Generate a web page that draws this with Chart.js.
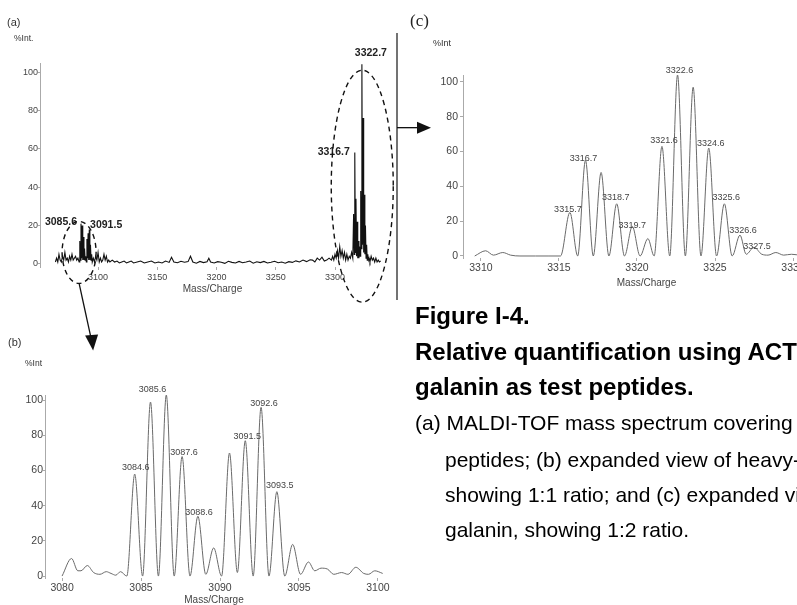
<!DOCTYPE html>
<html>
<head>
<meta charset="utf-8">
<title>Figure I-4</title>
<script src="https://cdn.jsdelivr.net/npm/chart.js@4.4.1/dist/chart.umd.min.js"></script>
<style>
  html, body { margin: 0; padding: 0; background: #fff; overflow: hidden; }
  #fig { position: relative; width: 797px; height: 605px; overflow: hidden; font-family: "Liberation Sans", Arial, sans-serif; }
  canvas { position: absolute; }
  .lbl { position: absolute; white-space: nowrap; color: #333; }
  .cap { position: absolute; left: 415px; white-space: nowrap; color: #000; }
  .bold { font-weight: bold; font-size: 24px; line-height: 26px; }
  .reg { font-size: 21px; line-height: 24px; }
</style>
</head>
<body>
<div id="fig">
  <canvas id="chartA" width="440" height="360" style="left:0;top:0"></canvas>
  <canvas id="chartB" width="400" height="245" style="left:0;top:380px"></canvas>
  <canvas id="chartC" width="400" height="300" style="left:440px;top:0"></canvas>

  <div class="lbl" style="left:7px;top:16px;font-size:11px">(a)</div>
  <div class="lbl" style="left:14px;top:33px;font-size:8.5px">%Int.</div>
  <div class="lbl" style="left:8px;top:336px;font-size:11px">(b)</div>
  <div class="lbl" style="left:25px;top:358px;font-size:8.5px">%Int</div>
  <div class="lbl" style="left:410px;top:11px;font-size:17px;font-family:'Liberation Serif',serif;color:#222">(c)</div>
  <div class="lbl" style="left:433px;top:38px;font-size:9px">%Int</div>

  <div class="cap bold" style="top:303px">Figure I-4.</div>
  <div class="cap bold" style="top:339px">Relative quantification using ACTH</div>
  <div class="cap bold" style="top:374px">galanin as test peptides.</div>
  <div class="cap reg" style="top:411px">(a) MALDI-TOF mass spectrum covering</div>
  <div class="cap reg" style="top:448px;left:445px">peptides; (b) expanded view of heavy-</div>
  <div class="cap reg" style="top:483px;left:445px">showing 1:1 ratio; and (c) expanded view</div>
  <div class="cap reg" style="top:518px;left:445px">galanin, showing 1:2 ratio.</div>
</div>

<script>
// (a) full spectrum, ACTH and galanin regions
const aMass = [
  3064, 3065, 3066, 3067, 3068, 3069, 3070, 3071, 3072, 3073, 3074, 3075, 3076, 3077, 3078, 3079, 3080, 3081, 3082, 3083, 3084,
  3084.6, 3085.1, 3085.6, 3086.1, 3086.6, 3087.1, 3087.6, 3088.1, 3088.6, 3089.1, 3089.6, 3090.1, 3090.6, 3091.1, 3091.6, 3092.1, 3092.6, 3093.1, 3093.6, 3094.1, 3094.6, 3095.1,
  3096, 3097, 3098, 3099, 3100, 3101, 3102, 3103, 3104, 3105, 3106, 3107, 3108, 3109, 3110, 3112, 3114, 3116, 3118, 3120, 3122, 3124, 3126, 3128, 3130, 3133, 3136, 3139, 3142, 3145, 3148,
  3151, 3154, 3157, 3160, 3162, 3164, 3167, 3170, 3173, 3176, 3178, 3180, 3183, 3186, 3189, 3192, 3193.5, 3195, 3198, 3201, 3204, 3207, 3210, 3213, 3216, 3219, 3222, 3225, 3228, 3231, 3234, 3237, 3240, 3243, 3246, 3249, 3252, 3255, 3258, 3261, 3264, 3267, 3270, 3273, 3276, 3279,
  3281, 3283, 3285, 3287, 3289, 3291, 3293, 3295, 3297, 3298, 3299, 3300, 3301, 3302, 3303, 3304, 3305, 3306, 3307, 3308, 3309, 3310, 3311, 3312, 3313, 3314, 3315,
  3315.7, 3316.2, 3316.7, 3317.2, 3317.7, 3318.2, 3318.7, 3319.2, 3319.7, 3320.2, 3320.7, 3321.2, 3321.7, 3322.2, 3322.7, 3323.2, 3323.7, 3324.2, 3324.7, 3325.2, 3325.7, 3326.2, 3326.7, 3327.2, 3327.7, 3328.2,
  3328.7, 3329.5, 3330.5, 3331.5, 3332.5, 3333.5, 3334.5, 3335.5, 3336.5, 3337.5, 3338.5
];
const aIntensity = [
  1, 3, 1, 5, 2, 1, 4, 2, 6, 2, 3, 1, 4, 2, 5, 2, 3, 4, 2, 3, 1,
  12, 2, 21, 3, 20, 2, 14, 2, 8, 2, 4, 1, 13, 3, 16, 2, 18, 2, 10, 2, 5, 1,
  3, 1, 4, 2, 6, 1, 3, 1, 2, 5, 2, 4, 1, 2, 1, 2, 1, 1.5, 0.5, 1, 1.5, 0.5, 1, 1.5, 0.5, 1, 1.5, 0.5, 1, 1.5, 0.5,
  1, 0.5, 1.5, 0.8, 3.5, 1, 0.6, 1.4, 0.9, 1.2, 4, 1, 0.4, 1.3, 0.7, 1.1, 3, 1, 0.5, 1.2, 0.9, 0.3, 1.4, 0.8, 0.5, 1.3, 0.6, 1, 1.5, 0.4, 1.1, 0.7, 1.3, 0.5, 0.9, 1.4, 0.6, 1, 0.4, 1.2, 0.8, 1.6, 1, 2, 1.2, 2.2,
  2, 1, 3, 2, 3.5, 1.5, 2, 3, 2, 4, 2, 5, 3, 7, 3, 9, 4, 7, 3, 6, 2, 5, 2, 4, 3, 6, 3,
  26, 5, 58, 6, 34, 4, 22, 3, 12, 3, 9, 4, 38, 8, 104, 10, 76, 6, 36, 5, 20, 3, 10, 2, 5, 2,
  3, 1, 4, 2, 3, 1, 3, 1, 2, 1, 1.5
];
const aTicks = [3100, 3150, 3200, 3250, 3300];
const aPeakLabels = ["3085.6", "3091.5", "3316.7", "3322.7"];

// (b) expanded ACTH region
const bMass = [
  3080, 3080.6, 3081, 3081.2, 3081.6, 3082, 3082.4, 3082.8, 3083.1, 3083.4, 3083.7, 3084.1,
  3084.6, 3085.1, 3085.6, 3086.1, 3086.6, 3087.1, 3087.6, 3088.1, 3088.6, 3089.1, 3089.6, 3090.1,
  3090.6, 3091.1, 3091.6, 3092.1, 3092.6, 3093.1, 3093.6, 3094.1, 3094.6, 3095.1, 3095.6, 3096,
  3096.4, 3096.8, 3097.2, 3097.7, 3098.1, 3098.6, 3099.1, 3099.4, 3099.8, 3100.3
];
const bIntensity = [
  0, 10, 3, 3, 6, 2, 1, 2.5, 1.5, 0.5, 2.5, 0,
  58, 0, 99, 0, 103, 0, 68, 0, 34, 1, 16, 0,
  70, 2, 77, 0, 96, 0, 48, 0, 18, 1, 8, 3,
  4.5, 4, 1, 2, 1, 5, 1.5, 1, 3, 1.5
];
const bTicks = [3080, 3085, 3090, 3095, 3100];
const bPeakLabels = ["3084.6", "3085.6", "3087.6", "3088.6", "3091.5", "3092.6", "3093.5"];

// (c) expanded galanin region
const cMass = [
  3309.6, 3310.3, 3310.8, 3311.4, 3311.9, 3312.5, 3313.5, 3314.3, 3315.1,
  3315.7, 3316.2, 3316.7, 3317.2, 3317.7, 3318.2, 3318.7, 3319.2, 3319.7, 3320.2, 3320.7, 3321.1,
  3321.6, 3322.1, 3322.6, 3323.1, 3323.6, 3324.1, 3324.6, 3325.1, 3325.6, 3326.1, 3326.6, 3327,
  3327.5, 3328, 3328.4, 3328.9, 3329.4, 3329.9, 3330.5, 3331.2, 3332
];
const cIntensity = [
  0, 3, 0.5, 2, 0.5, 0, 0, 0, 0,
  25, 0, 55, 0, 48, 0, 30, 0, 17, 0, 10, 0,
  63, 0, 104, 0, 97, 0, 62, 0, 30, 0, 12, 1,
  5, 1, 0.5, 2, 0.5, 1, 0.5, 1, 0
];
const cTicks = [3310, 3315, 3320, 3325, 3330];
const cPeakLabels = ["3315.7", "3316.7", "3318.7", "3319.7", "3321.6", "3322.6", "3324.6", "3325.6", "3326.6", "3327.5"];

const yTicks = [0, 20, 40, 60, 80, 100];

Chart.defaults.font.family = '"Liberation Sans", Arial, sans-serif';

function toPoints(xs, ys) {
  return xs.map((x, i) => ({ x: x, y: ys[i] }));
}

// peak labels: text anchored at the nearest data point of the spectrum
function peakLabels(cfg) {
  return {
    id: "peakLabels",
    afterDatasetsDraw(chart) {
      const ctx = chart.ctx;
      const pts = chart.data.datasets[0].data;
      const xs = chart.scales.x, ys = chart.scales.y;
      ctx.save();
      ctx.font = cfg.font;
      ctx.fillStyle = cfg.color;
      ctx.textBaseline = "middle";
      cfg.texts.forEach((t, i) => {
        const m = parseFloat(t);
        let best = pts[0];
        pts.forEach(p => { if (Math.abs(p.x - m) < Math.abs(best.x - m)) best = p; });
        ctx.textAlign = cfg.align ? cfg.align[i] : "center";
        ctx.fillText(t, xs.getPixelForValue(best.x) + cfg.dx[i], ys.getPixelForValue(best.y) + cfg.dy[i]);
      });
      ctx.restore();
    }
  };
}

// dashed ellipses, arrows and the frame line of panel (a)
const figureMarks = {
  id: "figureMarks",
  afterDraw(chart) {
    const ctx = chart.ctx, xs = chart.scales.x, ys = chart.scales.y;
    const sx = xs.getPixelForValue(3084), sy = ys.getPixelForValue(6);
    const gx = xs.getPixelForValue(3323), gy = ys.getPixelForValue(40.5);
    ctx.save();
    ctx.strokeStyle = "#111";
    ctx.lineWidth = 1.4;
    ctx.setLineDash([5, 4]);
    ctx.beginPath();
    ctx.ellipse(sx, sy, 17, 31, 0, 0, 2 * Math.PI);
    ctx.stroke();
    ctx.beginPath();
    ctx.ellipse(gx, gy, 31, 116, 0, 0, 2 * Math.PI);
    ctx.stroke();
    ctx.setLineDash([]);

    // frame line on the right of (a)
    ctx.strokeStyle = "#444";
    ctx.lineWidth = 1.5;
    ctx.beginPath();
    ctx.moveTo(397, 33);
    ctx.lineTo(397, 300);
    ctx.stroke();

    // arrow down to (b)
    ctx.strokeStyle = "#111";
    ctx.fillStyle = "#111";
    ctx.lineWidth = 1.3;
    ctx.beginPath();
    ctx.moveTo(sx, sy + 31);
    ctx.lineTo(sx + 12, sy + 86);
    ctx.stroke();
    ctx.beginPath();
    ctx.moveTo(sx + 14, sy + 98);
    ctx.lineTo(sx + 6, sy + 83);
    ctx.lineTo(sx + 19, sy + 82);
    ctx.closePath();
    ctx.fill();

    // arrow right to (c)
    const ay = ys.getPixelForValue(71);
    ctx.beginPath();
    ctx.moveTo(397, ay);
    ctx.lineTo(420, ay);
    ctx.stroke();
    ctx.beginPath();
    ctx.moveTo(431, ay);
    ctx.lineTo(417, ay - 6);
    ctx.lineTo(417, ay + 6);
    ctx.closePath();
    ctx.fill();
    ctx.restore();
  }
};

function spectrumOptions(o) {
  return {
    responsive: false,
    animation: false,
    devicePixelRatio: 1,
    layout: { padding: o.padding },
    plugins: { legend: { display: false }, tooltip: { enabled: false } },
    scales: {
      x: {
        type: "linear",
        min: o.xMin,
        max: o.xMax,
        afterBuildTicks: s => { s.ticks = o.xTicks.map(v => ({ value: v })); },
        afterFit: s => { s.height = o.xHeight; },
        grid: { display: true, drawOnChartArea: false, drawTicks: true, tickLength: 3, color: "#aaa" },
        border: { display: false },
        ticks: { font: { size: o.tickSize }, color: "#444", padding: o.xPad, maxRotation: 0, autoSkip: false, callback: v => String(v) },
        title: { display: true, text: "Mass/Charge", font: { size: 10 }, color: "#444", padding: 0 }
      },
      y: {
        min: o.yMin,
        max: o.yMax,
        afterBuildTicks: s => { s.ticks = yTicks.map(v => ({ value: v })); },
        afterFit: s => { s.width = o.yWidth; },
        grid: { display: true, drawOnChartArea: false, drawTicks: true, tickLength: o.yTick, color: "#aaa" },
        border: { display: true, color: "#aaa", width: 1 },
        ticks: { font: { size: o.tickSize }, color: "#444", padding: o.yPad, callback: v => String(v) }
      }
    }
  };
}

new Chart(document.getElementById("chartA"), {
  type: "line",
  data: {
    datasets: [{
      data: toPoints(aMass, aIntensity),
      borderColor: "#111",
      borderWidth: 1.1,
      pointRadius: 0,
      tension: 0
    }]
  },
  options: spectrumOptions({
    padding: { left: 0, right: 55, top: 63, bottom: 65 },
    xMin: 3051, xMax: 3342.2, xTicks: aTicks, xHeight: 28, xPad: 2,
    yMin: -1.6, yMax: 104.7, yWidth: 40, yTick: 2, yPad: 0,
    tickSize: 9
  }),
  plugins: [
    peakLabels({
      texts: aPeakLabels,
      font: "bold 10.5px 'Liberation Sans', Arial, sans-serif",
      color: "#222",
      align: ["right", "left", "right", "center"],
      dx: [-4, 2, -5, 9],
      dy: [-2, -8, -1, -11]
    }),
    figureMarks
  ]
});

new Chart(document.getElementById("chartB"), {
  type: "line",
  data: {
    datasets: [{
      data: toPoints(bMass, bIntensity),
      borderColor: "#6a6a6a",
      borderWidth: 1,
      pointRadius: 0,
      cubicInterpolationMode: "monotone"
    }]
  },
  options: spectrumOptions({
    padding: { left: 0, right: 17, top: 15, bottom: 19 },
    xMin: 3078.92, xMax: 3100.32, xTicks: bTicks, xHeight: 28, xPad: 1,
    yMin: -1.1, yMax: 103, yWidth: 45, yTick: 2, yPad: 0,
    tickSize: 10.5
  }),
  plugins: [
    peakLabels({
      texts: bPeakLabels,
      font: "9px 'Liberation Sans', Arial, sans-serif",
      color: "#444",
      dx: [1, 2, 2, 1, 2, 3, 3],
      dy: [-7, -13, -4, -4, -4, -4, -6]
    })
  ]
});

new Chart(document.getElementById("chartC"), {
  type: "line",
  data: {
    datasets: [{
      data: toPoints(cMass, cIntensity),
      borderColor: "#6a6a6a",
      borderWidth: 1,
      pointRadius: 0,
      cubicInterpolationMode: "monotone"
    }]
  },
  options: spectrumOptions({
    padding: { left: 0, right: 10, top: 75, bottom: 11 },
    xMin: 3308.85, xMax: 3332.37, xTicks: cTicks, xHeight: 31, xPad: 1,
    yMin: -1.15, yMax: 104, yWidth: 23, yTick: 3, yPad: 2,
    tickSize: 10.5
  }),
  plugins: [
    peakLabels({
      texts: cPeakLabels,
      font: "9px 'Liberation Sans', Arial, sans-serif",
      color: "#444",
      dx: [-2, -2, -1, 0, 2, 2, 2, 2, 3, 3],
      dy: [-3, -2, -6, -1, -6, -4, -5, -6, -5, -1]
    })
  ]
});
</script>
</body>
</html>
